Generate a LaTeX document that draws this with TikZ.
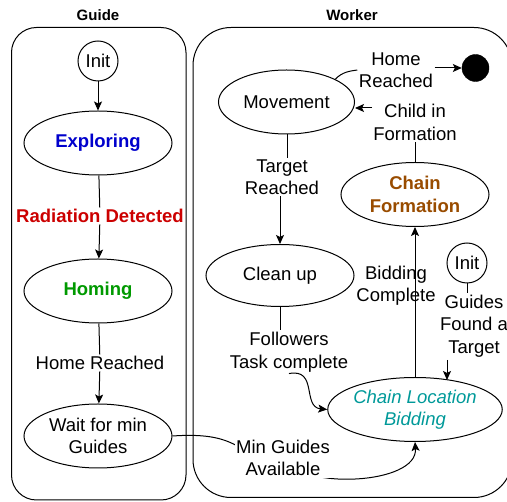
\documentclass[tikz,border=0pt]{standalone}
\usepackage{fontspec}
\setmainfont{Liberation Sans}
\usetikzlibrary{shapes.geometric,arrows.meta}
\definecolor{cblue}{RGB}{0,0,204}
\definecolor{cred}{RGB}{204,0,0}
\definecolor{cgreen}{RGB}{0,153,0}
\definecolor{cbrown}{RGB}{153,76,0}
\definecolor{cteal}{RGB}{0,153,153}
\tikzset{
  st/.style={draw,ellipse,line width=1pt,minimum width=148pt,minimum height=64pt,inner sep=0pt,align=center,font=\fontsize{18.5}{22.5}\selectfont},
  stb/.style={st,font=\fontsize{18.5}{22.5}\selectfont\bfseries},
  ini/.style={draw,circle,line width=1pt,minimum size=40pt,inner sep=0pt,font=\fontsize{18.5}{22.5}\selectfont},
  lbl/.style={fill=white,inner sep=1.5pt,align=center,font=\fontsize{18.5}{22.5}\selectfont},
  ttl/.style={font=\fontsize{15}{18}\selectfont\bfseries},
  ln/.style={line width=1pt},
  arr/.style={line width=1pt,-{Stealth[length=9pt,width=8pt,inset=2pt]}},
  box/.style={draw,line width=1pt,rounded corners=#1}
}
\begin{document}
\begin{tikzpicture}[x=1pt,y=-1pt]
\useasboundingbox (0,0) rectangle (507,502);
% containers
\node[ttl] (tg) at (98,15) {Guide};
\node[ttl] (tw) at (352,15) {Worker};
\draw[box=25pt] (11.5,27.5) rectangle (186,500);
\draw[box=38pt] (193,27.5) rectangle (512,497.5);
% Guide states
\node[ini] (gi) at (98,61) {Init};
\node[stb,text=cblue] (exp) at (98,143) {Exploring};
\node[stb,text=cgreen] (hom) at (98,291) {Homing};
\node[st] (wait) at (98,436) {Wait for min\\Guides};
% Worker states
\node[st,minimum width=136pt] (mov) at (286.5,102) {Movement};
\node[draw,circle,fill=black,minimum size=27pt,inner sep=0pt] (fin) at (475.5,68) {};
\node[stb,text=cbrown] (cf) at (415,194.5) {Chain\\Formation};
\node[st,minimum height=62pt] (clean) at (280,275.5) {Clean up};
\node[st,text=cteal,font=\fontsize{18.5}{22.5}\selectfont\itshape] (bid) at (415,409.5) {Chain Location\\Bidding};
\node[ini] (wi) at (467,263) {Init};
% labels
\node[lbl,text=cred,font=\fontsize{18.5}{22.5}\selectfont\bfseries] (rd) at (100,216) {Radiation Detected};
\node[lbl] (hr1) at (100,363) {Home Reached};
\node[lbl] (hr2) at (396,70) {Home\\Reached};
\node[lbl] (cif) at (415,122.5) {Child in\\Formation};
\node[lbl] (tr) at (282,177) {Target\\Reached};
\node[lbl] (bc) at (396,285.5) {Bidding\\Complete};
\node[lbl] (ftc) at (289,352) {Followers\\Task complete};
\node[lbl] (gft) at (474,326) {Guides\\Found a\\Target};
\coordinate (mgc) at (283,458);
% connectors
\draw[arr] (gi) -- (exp);
\draw[ln] (exp) -- (rd);
\draw[arr] (rd) -- (hom);
\draw[ln] (hom) -- (hr1);
\draw[arr] (hr1) -- (wait);
\draw[ln] (mov.south -| 287,0) -- (tr.north -| 287,0);
\draw[arr] (tr.south -| 280,0) -- (clean.north);
\draw[ln] (clean.south) -- (clean.south |- ftc.north);
\draw[arr] (ftc.south) .. controls (318,368) and (302,407) .. (bid.west);
\draw[arr] (bid.north) -- (cf.south);
\draw[ln] (cf.north) -- (cf.north |- cif.south);
\coordinate (cifa) at (372,108);
\draw[arr] (cifa) -- (mov.east |- cifa);
\draw[ln] (mov.25) .. controls (342,72) and (350,71) .. (hr2.west);
\draw[arr] (hr2.east |- fin) -- (fin.west);
\draw[ln] (wi.south) -- (wi.south |- gft.north);
\coordinate (gfa) at (447,360);
\draw[arr] (gfa) -- (447,380);
\draw[arr] (wait.east) .. controls (245,431) and (232,458) .. (mgc) .. controls (300,490) and (418,485) .. (bid.south);
\node[lbl] (mga) at (mgc) {Min Guides\\Available};
\end{tikzpicture}
\end{document}
